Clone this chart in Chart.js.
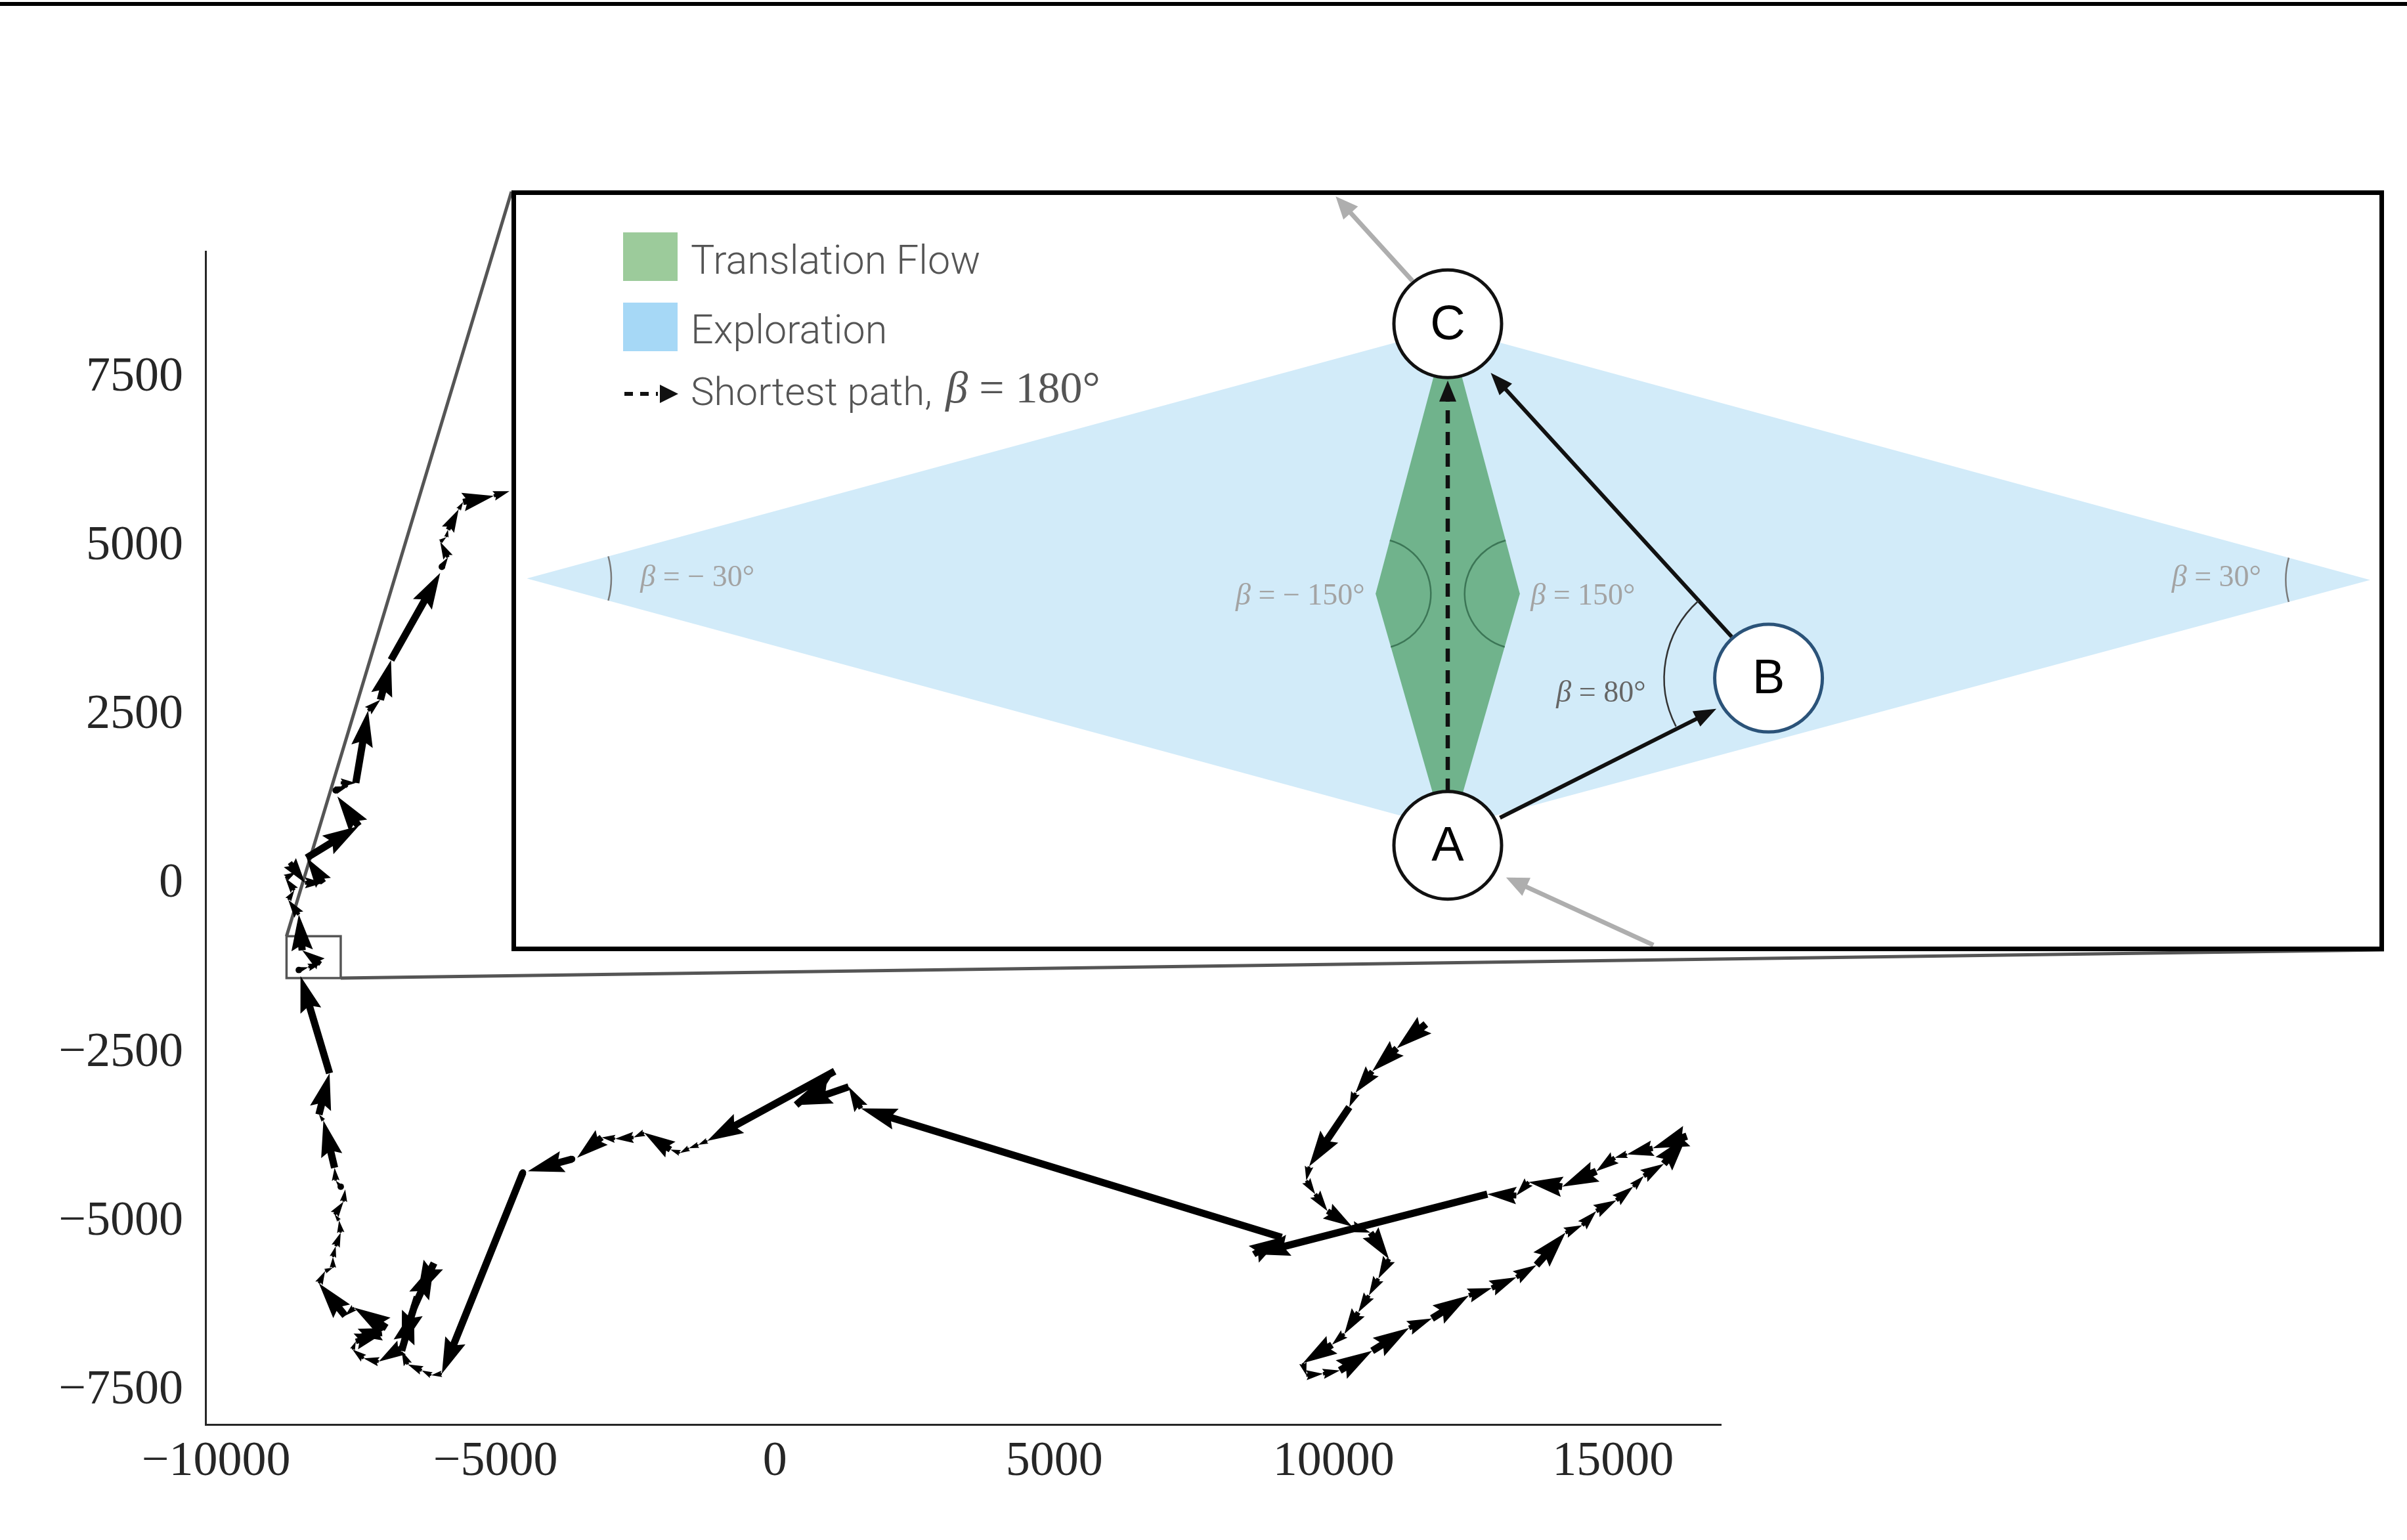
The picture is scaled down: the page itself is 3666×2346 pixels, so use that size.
<!DOCTYPE html>
<html>
<head>
<meta charset="utf-8">
<script src="https://cdn.jsdelivr.net/npm/chart.js@4.4.0/dist/chart.umd.min.js"></script>
<style>
html,body{margin:0;padding:0;background:#fff;}
#page{position:relative;width:3666px;height:2346px;overflow:hidden;background:#fff;}
#mainWrap{position:absolute;left:0;top:0;width:3666px;height:2346px;}
#topRule{position:absolute;left:0;top:3px;width:3666px;height:6px;background:#000;}
#inset{position:absolute;left:779px;top:290px;width:2852px;height:1159px;border:7px solid #000;box-sizing:border-box;background:#fff;}
#insetWrap{position:absolute;left:0;top:0;width:2838px;height:1145px;}
</style>
</head>
<body>
<div id="page">
  <div id="mainWrap"><canvas id="mainChart"></canvas></div>
  <div id="topRule"></div>
  <div id="inset"><div id="insetWrap"><canvas id="insetChart"></canvas></div></div>
</div>
<script>
// trajectory (start is the upper right branch)
const pathX = [11650, 11130, 10690, 10390, 10280, 9560, 9510, 9670, 9890, 10330,
  10660, 10990, 10800, 10630, 10440, 10190, 9970, 9450, 9510, 9810,
  10110, 10690, 11350, 11760, 12420, 12830, 13270, 13630, 14150, 14450,
  14700, 15060, 15360, 15550, 15910, 16320, 15710, 15250, 15030, 14700,
  14090, 13490, 13270, 12750, 8570, 9070, 1540, 1320, 380, 1070,
  -1210, -1370, -1540, -1700, -1870, -2340, -2530, -2860, -3100, -3540,
  -3630, -4420, -4510, -5960, -6150, -6320, -6570, -6680, -6460, -6100,
  -6400, -6680, -7090, -7360, -7560, -7500, -7030, -7420, -6950, -7530,
  -7690, -8160, -8050, -7910, -7910, -7860, -7770, -7800, -7880, -7720,
  -7690, -7770, -7860, -7880, -8080, -8160, -7970, -8490, -8520, -8350,
  -8130, -8460, -8520, -8710, -8600, -8760, -8570, -8680, -8410, -8080,
  -8380, -7450, -7830, -7860, -7640, -7770, -7500, -7280, -7060, -6870,
  -5990, -5960, -5850, -5990, -5880, -5850, -5660, -5580, -5030, -4750];
const pathY = [-2070, -2430, -2770, -3090, -3300, -4180, -4390, -4590, -4840, -5070,
  -5160, -5550, -5840, -6090, -6340, -6660, -6820, -7090, -7270, -7250,
  -7200, -6910, -6570, -6430, -6090, -5980, -5820, -5640, -5160, -5050,
  -4840, -4680, -4480, -4320, -4140, -3730, -3910, -4000, -4050, -4250,
  -4480, -4410, -4610, -4590, -5480, -5230, -3320, -3000, -3270, -2770,
  -3800, -3860, -3910, -3980, -3930, -3680, -3750, -3770, -3750, -4050,
  -4070, -4250, -4270, -7250, -7270, -7200, -7110, -6910, -6270, -5610,
  -6110, -6860, -7070, -7020, -6890, -6770, -6660, -6700, -6570, -6270,
  -6390, -5910, -5730, -5680, -5520, -5360, -5160, -4980, -4890, -4700,
  -4520, -4480, -4390, -4200, -3500, -3410, -2800, -1360, -1270, -1230,
  -1180, -980, -450, -230, -90, 90, 180, 320, 20, 20,
  390, 860, 1300, 1390, 1450, 1500, 1500, 2570, 2730, 3320,
  4610, 4700, 4840, 5070, 5140, 5250, 5550, 5660, 5750, 5820];

const xTicks = [-10000, -5000, 0, 5000, 10000, 15000];
const yTicks = [-7500, -5000, -2500, 0, 2500, 5000, 7500];
const xRange = [-10190, 16930];
const yRange = [-8000, 9370];

// small zoom box that the inset blows up
const zoomBoxX = [-8740, -7770];
const zoomBoxY = [-1390, -770];

// inset diagram, in its own units (x right, y up)
const explU = [7, 607, 1208, 607, 7];
const explV = [240, 403, 239, 77, 240];
const flowU = [560, 607, 654, 607, 560];
const flowV = [230, 406, 230, 66, 230];
const nodeNames = ['A', 'B', 'C'];
const nodeU = [607, 816, 607];
const nodeV = [66, 175, 406];
const angleTexts = [' = \u2212 30\u00b0', ' = \u2212 150\u00b0', ' = 150\u00b0', ' = 30\u00b0', ' = 80\u00b0'];
const angleTextU = [81, 553, 661, 1137, 736];
const angleTextV = [240, 228, 228, 240, 165];

const INSET_TL = [779, 292];
const INSET_BR = [3631, 1447];

function fmtTick(v) {
  return v < 0 ? '\u2212' + Math.abs(v) : String(v);
}

// quiver style arrow, like matplotlib's defaults
function quiverArrow(ctx, x0, y0, x1, y1, w) {
  const dx = x1 - x0, dy = y1 - y0;
  const L = Math.hypot(dx, dy);
  if (L < 0.5) return;
  if (L < w) {
    ctx.beginPath();
    ctx.arc(x1, y1, w * 0.45, 0, Math.PI * 2);
    ctx.fill();
    return;
  }
  const hl = 5 * w, hal = 4.5 * w, hw = 1.5 * w;
  let s = 1, len = L;
  if (L < hl) { s = L / hl; len = hl; }
  ctx.save();
  ctx.translate(x0, y0);
  ctx.rotate(Math.atan2(dy, dx));
  ctx.scale(s, s);
  ctx.beginPath();
  ctx.moveTo(0, -w / 2);
  ctx.lineTo(len - hal, -w / 2);
  ctx.lineTo(len - hl, -hw);
  ctx.lineTo(len, 0);
  ctx.lineTo(len - hl, hw);
  ctx.lineTo(len - hal, w / 2);
  ctx.lineTo(0, w / 2);
  ctx.closePath();
  ctx.fill();
  ctx.restore();
}

const zoomBoxPlugin = {
  id: 'zoomBox',
  beforeDatasetsDraw(chart) {
    const {ctx, scales: {x, y}} = chart;
    const l = x.getPixelForValue(zoomBoxX[0]), r = x.getPixelForValue(zoomBoxX[1]);
    const t = y.getPixelForValue(zoomBoxY[1]), b = y.getPixelForValue(zoomBoxY[0]);
    ctx.save();
    ctx.strokeStyle = '#555';
    ctx.lineWidth = 3.5;
    ctx.strokeRect(l, t, r - l, b - t);
    ctx.lineWidth = 5;
    ctx.beginPath();
    ctx.moveTo(l, t);
    ctx.lineTo(INSET_TL[0], INSET_TL[1]);
    ctx.moveTo(r, b);
    ctx.lineTo(INSET_BR[0], INSET_BR[1]);
    ctx.stroke();
    ctx.restore();
  }
};

const quiverPlugin = {
  id: 'quiver',
  afterDatasetsDraw(chart) {
    const ctx = chart.ctx;
    const pts = chart.getDatasetMeta(0).data;
    ctx.save();
    ctx.fillStyle = '#000';
    for (let i = 1; i < pts.length; i++) {
      quiverArrow(ctx, pts[i - 1].x, pts[i - 1].y, pts[i].x, pts[i].y, 11);
    }
    ctx.restore();
  }
};

const mainChart = new Chart(document.getElementById('mainChart'), {
  type: 'scatter',
  data: {
    datasets: [{
      label: 'trajectory',
      data: pathX.map((x, i) => ({x: x, y: pathY[i]})),
      pointRadius: 0,
      showLine: false
    }]
  },
  options: {
    responsive: true,
    maintainAspectRatio: false,
    devicePixelRatio: 1,
    animation: false,
    events: [],
    layout: {autoPadding: false, padding: {left: 0, top: 383, right: 1045, bottom: 0}},
    plugins: {legend: {display: false}, tooltip: {enabled: false}},
    scales: {
      x: {
        type: 'linear', min: xRange[0], max: xRange[1],
        grid: {display: false, drawTicks: false},
        border: {display: true, color: '#262626', width: 3},
        ticks: {font: {family: 'Liberation Serif', size: 74}, color: '#262626', padding: 13,
          maxRotation: 0, autoSkip: false, callback: fmtTick},
        afterBuildTicks: s => { s.ticks = xTicks.map(v => ({value: v})); },
        afterFit: s => { s.height = 176; }
      },
      y: {
        type: 'linear', min: yRange[0], max: yRange[1],
        grid: {display: false, drawTicks: false},
        border: {display: true, color: '#262626', width: 3},
        ticks: {font: {family: 'Liberation Serif', size: 74}, color: '#262626', padding: 34,
          autoSkip: false, callback: fmtTick},
        afterBuildTicks: s => { s.ticks = yTicks.map(v => ({value: v})); },
        afterFit: s => { s.width = 313; }
      }
    }
  },
  plugins: [zoomBoxPlugin, quiverPlugin]
});

// ---------- inset ----------
function lineArrow(ctx, ax, ay, bx, by, o) {
  const ang = Math.atan2(by - ay, bx - ax);
  const ex = bx - Math.cos(ang) * o.head * 0.9, ey = by - Math.sin(ang) * o.head * 0.9;
  ctx.save();
  ctx.strokeStyle = o.color;
  ctx.fillStyle = o.color;
  ctx.lineWidth = o.width;
  if (o.dash) ctx.setLineDash(o.dash);
  ctx.beginPath();
  ctx.moveTo(ax, ay);
  ctx.lineTo(ex, ey);
  ctx.stroke();
  ctx.setLineDash([]);
  ctx.translate(bx, by);
  ctx.rotate(ang);
  ctx.beginPath();
  ctx.moveTo(0, 0);
  ctx.lineTo(-o.head, -o.half);
  ctx.lineTo(-o.head, o.half);
  ctx.closePath();
  ctx.fill();
  ctx.restore();
}

function betaText(ctx, x, y, rest, align, color, size) {
  ctx.save();
  ctx.fillStyle = color;
  ctx.textBaseline = 'middle';
  ctx.textAlign = 'left';
  ctx.font = 'italic ' + size + 'px "Liberation Serif"';
  const wb = ctx.measureText('\u03b2').width;
  ctx.font = size + 'px "Liberation Serif"';
  const wr = ctx.measureText(rest).width;
  const left = align === 'right' ? x - wb - wr : x;
  ctx.font = 'italic ' + size + 'px "Liberation Serif"';
  ctx.fillText('\u03b2', left, y);
  ctx.font = size + 'px "Liberation Serif"';
  ctx.fillText(rest, left + wb, y);
  ctx.restore();
}

const diagramPlugin = {
  id: 'diagram',
  afterDatasetsDraw(chart) {
    const {ctx, scales: {x, y}} = chart;
    const px = u => x.getPixelForValue(u), py = v => y.getPixelForValue(v);
    const k = px(1) - px(0);

    // arrows
    lineArrow(ctx, px(607), py(101), px(607), py(369), {color: '#111', width: 6.5, head: 32, half: 13, dash: [20, 13]});
    lineArrow(ctx, px(641), py(84), px(782), py(155), {color: '#111', width: 6, head: 34, half: 13});
    lineArrow(ctx, px(792), py(202), px(635), py(374), {color: '#111', width: 6, head: 34, half: 13});
    lineArrow(ctx, px(741), py(1), px(645), py(45), {color: '#aeaeae', width: 7, head: 34, half: 15});
    lineArrow(ctx, px(584), py(434), px(534), py(489), {color: '#aeaeae', width: 7, head: 34, half: 15});

    // angle arcs
    const arc = (cu, cv, r, u1, v1, u2, v2, color) => {
      const a1 = Math.atan2(py(v1) - py(cv), px(u1) - px(cu));
      let a2 = Math.atan2(py(v2) - py(cv), px(u2) - px(cu));
      if (a2 < a1) a2 += Math.PI * 2;
      ctx.save();
      ctx.strokeStyle = color;
      ctx.lineWidth = 2.5;
      ctx.beginPath();
      ctx.arc(px(cu), py(cv), r * k, a1, a2);
      ctx.stroke();
      ctx.restore();
    };
    // exploration tips
    arc(explU[0], explV[0], 55, explU[1], explV[1], explU[3], explV[3], '#7a7a7a');
    arc(explU[2], explV[2], 55, explU[3], explV[3], explU[1], explV[1], '#7a7a7a');
    // translation flow side corners
    arc(flowU[0], flowV[0], 36, flowU[1], flowV[1], flowU[3], flowV[3], '#3c7656');
    arc(flowU[2], flowV[2], 36, flowU[3], flowV[3], flowU[1], flowV[1], '#3c7656');
    // angle at B
    arc(nodeU[1], nodeV[1], 68, nodeU[0], nodeV[0], nodeU[2], nodeV[2], '#333');

    // node letters
    ctx.save();
    ctx.fillStyle = '#000';
    ctx.font = '74px "Liberation Sans"';
    ctx.textAlign = 'center';
    ctx.textBaseline = 'middle';
    nodeNames.forEach((n, i) => ctx.fillText(n, px(nodeU[i]), py(nodeV[i]) + 3));
    ctx.restore();

    // angle labels
    const aligns = ['left', 'right', 'left', 'right', 'right'];
    const colors = ['#a3a3a3', '#a3a3a3', '#a3a3a3', '#a3a3a3', '#666'];
    angleTexts.forEach((t, i) => betaText(ctx, px(angleTextU[i]), py(angleTextV[i]), t, aligns[i], colors[i], 46));

    // legend
    ctx.save();
    ctx.fillStyle = '#9ccb9b';
    ctx.fillRect(163, 57, 83, 74);
    ctx.fillStyle = '#a6d8f6';
    ctx.fillRect(163, 164, 83, 74);
    ctx.strokeStyle = '#111';
    ctx.lineWidth = 6;
    ctx.setLineDash([13, 11]);
    ctx.beginPath();
    ctx.moveTo(165, 303);
    ctx.lineTo(216, 303);
    ctx.stroke();
    ctx.setLineDash([]);
    ctx.fillStyle = '#111';
    ctx.beginPath();
    ctx.moveTo(247, 303);
    ctx.lineTo(219, 289);
    ctx.lineTo(219, 317);
    ctx.closePath();
    ctx.fill();
    ctx.fillStyle = '#555';
    ctx.textAlign = 'left';
    ctx.textBaseline = 'alphabetic';
    ctx.font = '300 61px Roboto';
    ctx.fillText('Translation Flow', 266, 120);
    ctx.fillText('Exploration', 266, 226);
    ctx.font = '300 60px Roboto';
    const sp = 'Shortest path, ';
    ctx.fillText(sp, 266, 320);
    const w = ctx.measureText(sp).width;
    ctx.restore();
    betaText(ctx, 266 + w + 6, 298, ' = 180\u00b0', 'left', '#555', 68);
  }
};

const insetChart = new Chart(document.getElementById('insetChart'), {
  type: 'scatter',
  data: {
    datasets: [
      {label: 'Exploration', data: explU.map((u, i) => ({x: u, y: explV[i]})), showLine: true, fill: 'shape',
        backgroundColor: '#d2ebf9', borderColor: 'rgba(0,0,0,0)', borderWidth: 0, pointRadius: 0, order: 3},
      {label: 'Translation Flow', data: flowU.map((u, i) => ({x: u, y: flowV[i]})), showLine: true, fill: 'shape',
        backgroundColor: '#70b38c', borderColor: 'rgba(0,0,0,0)', borderWidth: 0, pointRadius: 0, order: 2},
      {label: 'nodes', data: nodeU.map((u, i) => ({x: u, y: nodeV[i]})), pointRadius: 82,
        pointBackgroundColor: '#fff', pointBorderColor: ['#111', '#2b5379', '#111'], pointBorderWidth: 5, order: 1}
    ]
  },
  options: {
    responsive: true,
    maintainAspectRatio: false,
    devicePixelRatio: 1,
    animation: false,
    events: [],
    layout: {autoPadding: false, padding: 0},
    plugins: {legend: {display: false}, tooltip: {enabled: false}},
    scales: {
      x: {type: 'linear', min: 0, max: 1214, display: false},
      y: {type: 'linear', min: 0, max: 490, display: false}
    }
  },
  plugins: [diagramPlugin]
});
</script>
</body>
</html>
